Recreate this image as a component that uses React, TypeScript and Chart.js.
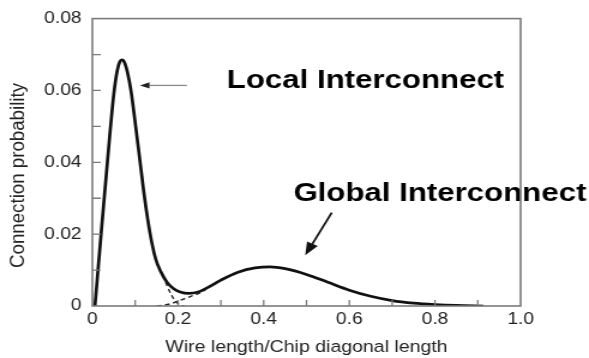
import { useEffect, useRef } from 'react';
import { Chart, registerables } from 'chart.js';

Chart.register(...registerables);

// ---- data ----
const totalX = [0.006, 0.02, 0.035, 0.05, 0.058, 0.064, 0.069, 0.075, 0.082, 0.09, 0.1, 0.1115, 0.122, 0.135, 0.148, 0.16, 0.175, 0.19, 0.205, 0.225, 0.245, 0.27, 0.3, 0.34, 0.38, 0.415, 0.45, 0.5, 0.55, 0.6, 0.65, 0.7, 0.75, 0.8, 0.85, 0.913];
const totalY = [0, 0.0195, 0.04, 0.059, 0.0655, 0.068, 0.0685, 0.0678, 0.065, 0.06, 0.051, 0.04, 0.03, 0.02, 0.013, 0.0095, 0.0065, 0.0048, 0.0039, 0.0035, 0.0038, 0.0052, 0.0072, 0.0094, 0.0106, 0.0109, 0.0104, 0.0088, 0.0066, 0.0044, 0.0027, 0.0015, 0.0008, 0.0004, 0.00015, 0];

const localTailX = [0.165, 0.175, 0.185, 0.195, 0.205, 0.215];
const localTailY = [0.0085, 0.0055, 0.003, 0.0012, 0.0003, 0];

const globalRiseX = [0.15, 0.17, 0.19, 0.21, 0.23, 0.25, 0.265];
const globalRiseY = [0, 0.0003, 0.0009, 0.0018, 0.0027, 0.0036, 0.0046];

const xMinorTicks = [0.1, 0.2, 0.3, 0.4, 0.5, 0.6, 0.7, 0.8, 0.9];
const yMinorTicks = [0.01, 0.02, 0.03, 0.04, 0.05, 0.06, 0.07];

const xAxisTitle = 'Wire length/Chip diagonal length';
const yAxisTitle = 'Connection probability';

const labelTexts = ['Local Interconnect', 'Global Interconnect'];
const labelX = [0.314, 0.4696];
const labelY = [0.0608, 0.0292];

// arrows: [tailX, tailY, tipX, tipY]
const localArrow = [0.2206, 0.0614, 0.111, 0.0614];
const globalArrow = [0.559, 0.026, 0.497, 0.0141];

const W = 491;
const H = 358;
const STRETCH = 589 / W;
const FONT = '"Liberation Sans", Arial, Helvetica, sans-serif';

const pts = (xs: number[], ys: number[]) => xs.map((x, i) => ({ x, y: ys[i] }));

function drawArrow(ctx: CanvasRenderingContext2D, x1: number, y1: number, x2: number, y2: number, lineColor: string, headColor: string, lw: number, headLen: number, headHalf: number) {
  const ang = Math.atan2(y2 - y1, x2 - x1);
  const bx = x2 - Math.cos(ang) * headLen;
  const by = y2 - Math.sin(ang) * headLen;
  ctx.strokeStyle = lineColor;
  ctx.lineWidth = lw;
  ctx.beginPath();
  ctx.moveTo(x1, y1);
  ctx.lineTo(bx, by);
  ctx.stroke();
  ctx.fillStyle = headColor;
  ctx.beginPath();
  ctx.moveTo(x2, y2);
  ctx.lineTo(bx + Math.sin(ang) * headHalf, by - Math.cos(ang) * headHalf);
  ctx.lineTo(bx - Math.sin(ang) * headHalf, by + Math.cos(ang) * headHalf);
  ctx.closePath();
  ctx.fill();
}

const decor = {
  id: 'decor',
  afterDraw(chart: any) {
    const { ctx, chartArea: a, scales } = chart;
    const xs = scales.x;
    const ys = scales.y;
    ctx.save();

    // annotation texts
    ctx.fillStyle = '#000';
    ctx.font = `bold 26px ${FONT}`;
    ctx.textAlign = 'left';
    ctx.textBaseline = 'alphabetic';
    labelTexts.forEach((t, i) => {
      ctx.fillText(t, xs.getPixelForValue(labelX[i]), ys.getPixelForValue(labelY[i]));
    });

    // arrows
    drawArrow(ctx,
      xs.getPixelForValue(localArrow[0]), ys.getPixelForValue(localArrow[1]),
      xs.getPixelForValue(localArrow[2]), ys.getPixelForValue(localArrow[3]),
      '#8a8a8a', '#222', 1.3, 8, 3.2);
    drawArrow(ctx,
      xs.getPixelForValue(globalArrow[0]), ys.getPixelForValue(globalArrow[1]),
      xs.getPixelForValue(globalArrow[2]), ys.getPixelForValue(globalArrow[3]),
      '#111', '#111', 1.8, 13, 5);

    // frame
    ctx.strokeStyle = '#7a7a7a';
    ctx.lineWidth = 1.6;
    ctx.strokeRect(a.left, a.top, a.right - a.left, a.bottom - a.top);

    // inward tick marks
    ctx.lineWidth = 1.3;
    ctx.beginPath();
    xMinorTicks.forEach((v) => {
      const px = xs.getPixelForValue(v);
      ctx.moveTo(px, a.bottom);
      ctx.lineTo(px, a.bottom - 6);
    });
    yMinorTicks.forEach((v) => {
      const py = ys.getPixelForValue(v);
      ctx.moveTo(a.left, py);
      ctx.lineTo(a.left + 7, py);
    });
    ctx.stroke();

    // y axis title (rotated)
    ctx.fillStyle = '#222';
    ctx.font = `16px ${FONT}`;
    const tw = ctx.measureText(yAxisTitle).width;
    ctx.translate(16, 175.5);
    ctx.rotate(-Math.PI / 2);
    ctx.scale(185 / tw, 1);
    ctx.textAlign = 'center';
    ctx.textBaseline = 'middle';
    ctx.fillText(yAxisTitle, 0, 0);

    ctx.restore();
  },
};

export default function App() {
  const ref = useRef<HTMLCanvasElement | null>(null);

  useEffect(() => {
    if (!ref.current) return;
    const chart = new Chart(ref.current, {
      type: 'line',
      data: {
        datasets: [
          {
            data: pts(totalX, totalY),
            borderColor: '#111',
            borderWidth: 2.7,
            pointRadius: 0,
            cubicInterpolationMode: 'monotone',
            fill: false,
          },
          {
            data: pts(localTailX, localTailY),
            borderColor: '#222',
            borderWidth: 1.4,
            borderDash: [4, 3],
            pointRadius: 0,
            cubicInterpolationMode: 'monotone',
            fill: false,
          },
          {
            data: pts(globalRiseX, globalRiseY),
            borderColor: '#222',
            borderWidth: 1.4,
            borderDash: [4, 3],
            pointRadius: 0,
            cubicInterpolationMode: 'monotone',
            fill: false,
          },
        ],
      },
      options: {
        responsive: false,
        animation: false,
        devicePixelRatio: 1,
        layout: { padding: { top: 16, right: 57, left: 0, bottom: 0 } },
        plugins: { legend: { display: false }, tooltip: { enabled: false } },
        scales: {
          x: {
            type: 'linear',
            min: 0,
            max: 1,
            grid: { display: false, drawTicks: false },
            border: { display: false },
            ticks: {
              stepSize: 0.2,
              padding: 4,
              color: '#222',
              font: { family: FONT, size: 16 },
              maxRotation: 0,
              callback: (v: any) => (Number(v) === 0 ? '0' : Number(v).toFixed(1)),
            },
            title: {
              display: true,
              text: xAxisTitle,
              color: '#222',
              font: { family: FONT, size: 16.3 },
              padding: { top: 0, bottom: 1 },
            },
            afterFit: (s: any) => { s.height = 52; },
          },
          y: {
            type: 'linear',
            min: 0,
            max: 0.08,
            grid: { display: false, drawTicks: false },
            border: { display: false },
            ticks: {
              stepSize: 0.02,
              padding: 9,
              color: '#222',
              font: { family: FONT, size: 16 },
              callback: (v: any) => (Number(v) === 0 ? '0' : Number(v).toFixed(2)),
            },
            afterFit: (s: any) => { s.width = 77; },
          },
        },
      },
      plugins: [decor],
    });
    return () => chart.destroy();
  }, []);

  return (
    <div style={{ position: 'fixed', left: 0, top: 0, width: 589, height: 358, overflow: 'hidden', background: '#fff' }}>
      <canvas
        ref={ref}
        width={W}
        height={H}
        style={{ display: 'block', width: `${W}px`, height: `${H}px`, transform: `scaleX(${STRETCH})`, transformOrigin: '0 0' }}
      />
    </div>
  );
}
